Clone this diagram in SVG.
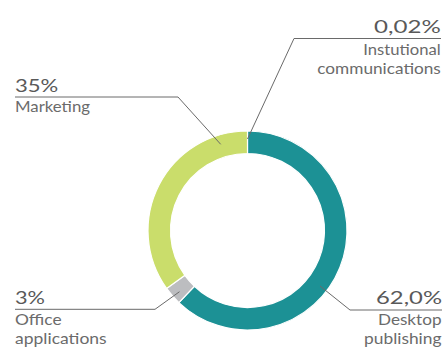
<svg xmlns="http://www.w3.org/2000/svg" width="447" height="347" viewBox="0 0 447 347">
<style>
.seg{stroke:#ffffff;stroke-width:1.2;stroke-linejoin:miter}
.lead{fill:none;stroke:#6a6a6a;stroke-width:1}
.pct{font-family:Lato,"Open Sans","Liberation Sans",sans-serif;font-size:17.5px;fill:#595959}
.lbl{font-family:Lato,"Open Sans","Liberation Sans",sans-serif;font-size:15px;fill:#6b6b6b}
</style>
<rect width="447" height="347" fill="#ffffff"/>
<g id="ring">
<path id="seg-desktop" class="seg" fill="#1c9195" d="M 247.5 131 A 99.5 99.5 0 1 1 178.88 302.56 L 194.40 286.26 A 77 77 0 1 0 247.5 153.5 Z"/>
<path id="seg-office" class="seg" fill="#bcbdc0" d="M 178.88 302.56 A 99.5 99.5 0 0 1 166.60 288.42 L 184.89 275.32 A 77 77 0 0 0 194.40 286.26 Z"/>
<path id="seg-marketing" class="seg" fill="#cadd6b" d="M 166.60 288.42 A 99.5 99.5 0 0 1 247.5 131 L 247.5 153.5 A 77 77 0 0 0 184.89 275.32 Z"/>
</g>
<g id="connectors">
<polyline class="lead" points="247.5,139 294,38.5 441,38.5"/>
<polyline class="lead" points="15,97 178,97 220.7,144.3"/>
<polyline class="lead" points="15,309.3 155,309.3 179.5,291.7"/>
<polyline class="lead" points="320,286 350,310 442,310"/>
</g>
<g id="label-institutional">
<text class="pct" x="374" y="32.5" textLength="66.7" lengthAdjust="spacingAndGlyphs">0,02%</text>
<text class="lbl" x="363.3" y="54.5" textLength="77.4" lengthAdjust="spacingAndGlyphs">Instutional</text>
<text class="lbl" x="317.3" y="73.5" textLength="123.5" lengthAdjust="spacingAndGlyphs">communications</text>
</g>
<g id="label-marketing">
<text class="pct" x="15" y="92.3" textLength="43.3" lengthAdjust="spacingAndGlyphs">35%</text>
<text class="lbl" x="15" y="111.5" textLength="75" lengthAdjust="spacingAndGlyphs">Marketing</text>
</g>
<g id="label-office">
<text class="pct" x="15" y="304" textLength="30" lengthAdjust="spacingAndGlyphs">3%</text>
<text class="lbl" x="15" y="324.5" textLength="46.7" lengthAdjust="spacingAndGlyphs">Office</text>
<text class="lbl" x="15" y="343.5" textLength="91.7" lengthAdjust="spacingAndGlyphs">applications</text>
</g>
<g id="label-desktop">
<text class="pct" x="376" y="304" textLength="66" lengthAdjust="spacingAndGlyphs">62,0%</text>
<text class="lbl" x="378" y="324.5" textLength="63.5" lengthAdjust="spacingAndGlyphs">Desktop</text>
<text class="lbl" x="364" y="343.5" textLength="77.5" lengthAdjust="spacingAndGlyphs">publishing</text>
</g>
</svg>
